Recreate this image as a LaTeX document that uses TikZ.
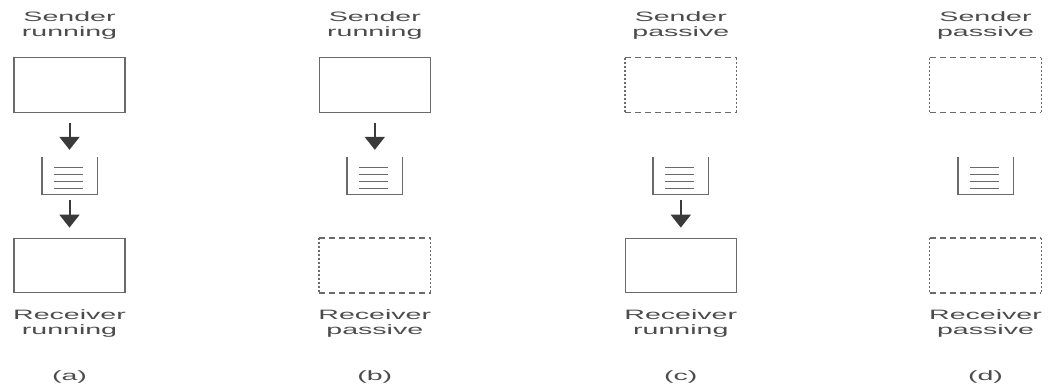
\documentclass[tikz,border=0pt]{standalone}
\usepackage{fontspec}
\setmainfont{Liberation Sans}
\usetikzlibrary{arrows.meta}
\definecolor{linegray}{HTML}{6A6A6A}
\definecolor{textgray}{HTML}{4C4C4C}
\definecolor{arrowgray}{HTML}{3A3A3A}
\tikzset{
  lbl/.style={font=\fontsize{13.6pt}{15pt}\selectfont, text=textgray, align=center, inner sep=0pt, xscale=2.1},
  procbox/.style={minimum width=111pt, minimum height=54.5pt, inner sep=0pt},
  solidbox/.style={procbox, draw=linegray, line width=1.3pt},
  queuebox/.style={minimum width=55pt, minimum height=37pt, inner sep=0pt},
  qline/.style={draw=linegray, line width=1.4pt},
  dashh/.style={draw=linegray, line width=1.3pt, dash pattern=on 6pt off 4pt},
  dashv/.style={draw=linegray, line width=1.3pt, dash pattern=on 2pt off 2pt},
  msg/.style={draw=arrowgray, line width=2pt, -{Triangle[width=20pt,length=13pt]}}
}
\newcommand{\queuedraw}[1]{%
  \draw[qline] (#1.north west) -- (#1.south west) -- (#1.south east) -- (#1.north east);
  \foreach \yy in {11,18,25,32}{
    \draw[draw=linegray, line width=1.3pt] ([xshift=12pt,yshift=-\yy pt]#1.north west) -- ([xshift=41pt,yshift=-\yy pt]#1.north west);
  }%
}
\newcommand{\dashdraw}[1]{%
  \draw[dashh] (#1.north west) -- (#1.north east);
  \draw[dashh] (#1.south west) -- (#1.south east);
  \draw[dashv] (#1.north west) -- (#1.south west);
  \draw[dashv] (#1.north east) -- (#1.south east);
}
\begin{document}
\begin{tikzpicture}[x=1pt,y=-1pt]
\useasboundingbox[fill=white] (0,0) rectangle (1049,383);
% (a)
\node[lbl, anchor=north] (sa) at (69.5,11.5) {Sender\\running};
\node[solidbox] (sba) at (69.5,85) {};
\node[queuebox] (qa) at (69.5,175.5) {};
\queuedraw{qa}
\node[solidbox] (rba) at (69.5,265.5) {};
\node[lbl, anchor=north] (ra) at (69.5,309.5) {Receiver\\running};
\node[lbl, anchor=base] (ca) at (69.5,380) {(a)};
\draw[msg, shorten <=10pt, shorten >=7pt] (sba.south) -- (qa.north);
\draw[msg, shorten <=6pt, shorten >=10pt] (qa.south) -- (rba.north);
% (b)
\node[lbl, anchor=north] (sb) at (374.8,11.5) {Sender\\running};
\node[solidbox] (sbb) at (374.8,85) {};
\node[queuebox] (qb) at (374.8,175.5) {};
\queuedraw{qb}
\node[procbox] (rbb) at (374.8,265.5) {};
\dashdraw{rbb}
\node[lbl, anchor=north] (rb) at (374.8,309.5) {Receiver\\passive};
\node[lbl, anchor=base] (cb) at (374.8,380) {(b)};
\draw[msg, shorten <=10pt, shorten >=7pt] (sbb.south) -- (qb.north);
% (c)
\node[lbl, anchor=north] (sc) at (680.8,11.5) {Sender\\passive};
\node[procbox] (sbc) at (680.8,85) {};
\dashdraw{sbc}
\node[queuebox] (qc) at (680.8,175.5) {};
\queuedraw{qc}
\node[solidbox] (rbc) at (680.8,265.5) {};
\node[lbl, anchor=north] (rc) at (680.8,309.5) {Receiver\\running};
\node[lbl, anchor=base] (cc) at (680.8,380) {(c)};
\draw[msg, shorten <=6pt, shorten >=10pt] (qc.south) -- (rbc.north);
% (d)
\node[lbl, anchor=north] (sd) at (985.5,11.5) {Sender\\passive};
\node[procbox] (sbd) at (985.5,85) {};
\dashdraw{sbd}
\node[queuebox] (qd) at (985.5,175.5) {};
\queuedraw{qd}
\node[procbox] (rbd) at (985.5,265.5) {};
\dashdraw{rbd}
\node[lbl, anchor=north] (rd) at (985.5,309.5) {Receiver\\passive};
\node[lbl, anchor=base] (cd) at (985.5,380) {(d)};
\end{tikzpicture}
\end{document}
